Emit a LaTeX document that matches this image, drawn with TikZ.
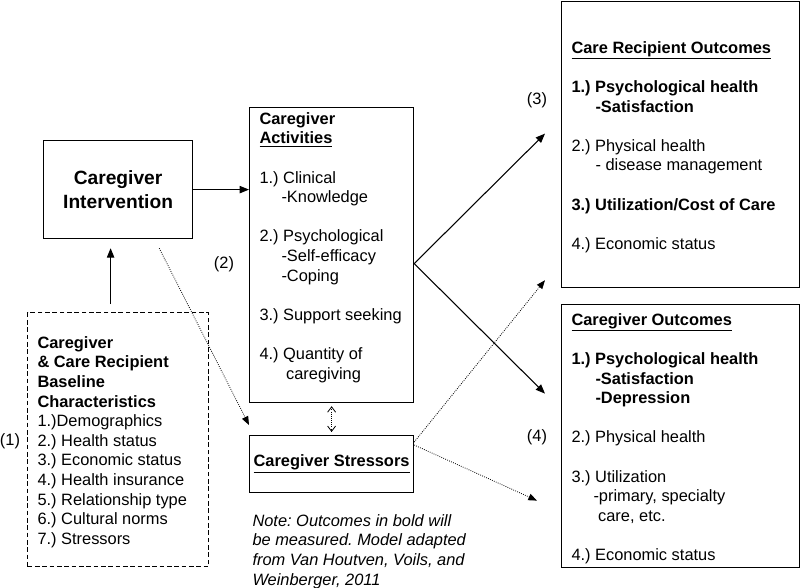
\documentclass[tikz,border=0pt]{standalone}
\usepackage{fontspec}
\setmainfont{Liberation Sans}
\usetikzlibrary{arrows.meta,calc}
\frenchspacing

\tikzset{every picture/.style={line width=0.75pt}}
\tikzset{
  box/.style={draw, line width=0.9pt, inner sep=0, anchor=north west},
  txt/.style={font=\fontsize{12.3}{14.7}\selectfont, align=left, inner sep=0, anchor=north west},
  lbl/.style={font=\fontsize{12.3}{14.7}\selectfont, inner sep=0},
  arr/.style={line width=0.8pt, -{Triangle[length=7pt,width=5.5pt]}},
  dotarr/.style={line width=0.6pt, densely dotted, -{Triangle[length=6.5pt,width=5pt]}},
  dblarr/.style={line width=0.6pt, densely dotted, {Straight Barb[length=4pt,width=6pt]}-{Straight Barb[length=4pt,width=6pt]}},
}

\begin{document}
\begin{tikzpicture}[x=0.75pt,y=0.75pt,yscale=-1,xscale=1]
	\useasboundingbox (0,0) rectangle (800,587);

	% Boxes
	\node[box, minimum width=111.75pt, minimum height=73.5pt, align=center, font=\fontsize{14.4}{17.3}\selectfont\bfseries] (intv) at (43,140) {Caregiver\\Intervention};
	\node[box, minimum width=123pt, minimum height=221.25pt] (act) at (249,107) {};
	\node[box, dash pattern=on 3.5pt off 2pt, minimum width=135.75pt, minimum height=190.5pt] (base) at (27,312) {};
	\node[box, minimum width=123pt, minimum height=42.75pt, font=\fontsize{12.3}{14.7}\selectfont\bfseries] (str) at (249,435) {\underline{Caregiver Stressors}};
	\node[box, minimum width=178.5pt, minimum height=214.5pt] (cro) at (561,1) {};
	\node[box, minimum width=178.5pt, minimum height=197.25pt] (cgo) at (561,304) {};

	% Box texts
	\node[txt] (acttxt) at (259,112) {\textbf{Caregiver}\\
		\textbf{\underline{Activities}}\\[14.7pt]
		1.) Clinical\\
		\hspace*{16.5pt}-Knowledge\\[14.7pt]
		2.) Psychological\\
		\hspace*{16.5pt}-Self-efficacy\\
		\hspace*{16.5pt}-Coping\\[14.7pt]
		3.) Support seeking\\[14.7pt]
		4.) Quantity of\\
		\hspace*{20pt}caregiving};
	\node[txt] (basetxt) at (37,336) {\textbf{Caregiver}\\
		\textbf{\& Care Recipient}\\
		\textbf{Baseline}\\
		\textbf{Characteristics}\\
		1.)Demographics\\
		2.) Health status\\
		3.) Economic status\\
		4.) Health insurance\\
		5.) Relationship type\\
		6.) Cultural norms\\
		7.) Stressors};
	\node[txt] (crotxt) at (571,41) {\textbf{\underline{Care Recipient Outcomes}}\\[14.7pt]
		\textbf{1.) Psychological health}\\
		\hspace*{18pt}\textbf{-Satisfaction}\\[14.7pt]
		2.) Physical health\\
		\hspace*{18pt}- disease management\\[14.7pt]
		\textbf{3.) Utilization/Cost of Care}\\[14.7pt]
		4.) Economic status};
	\node[txt] (cgotxt) at (571,313) {\textbf{\underline{Caregiver Outcomes}}\\[14.7pt]
		\textbf{1.) Psychological health}\\
		\hspace*{18pt}\textbf{-Satisfaction}\\
		\hspace*{18pt}\textbf{-Depression}\\[14.7pt]
		2.) Physical health\\[14.7pt]
		3.) Utilization\\
		\hspace*{16.5pt}-primary, specialty\\
		\hspace*{20pt}care, etc.\\[14.7pt]
		4.) Economic status};
	\node[txt, font=\fontsize{12.3}{14.7}\selectfont\itshape] (note) at (252,514) {Note: Outcomes in bold will\\
		be measured. Model adapted\\
		from Van Houtven, Voils, and\\
		Weinberger, 2011};

	% Path labels
	\node[lbl] (l1) at (10,441) {(1)};
	\node[lbl] (l2) at (224,264) {(2)};
	\node[lbl] (l3) at (537,100) {(3)};
	\node[lbl] (l4) at (537,437) {(4)};

	% Connectors
	\coordinate (fork) at ($(act.east)+(0,8.5)$);
	\draw[arr] (intv.east) -- (intv.east -| act.west);
	\draw[arr, shorten <=6pt, shorten >=6.75pt] ($(base.north)+(-7.5,0)$) -- ($(intv.south)+(-7.5,0)$);
	\draw[dotarr] ($(intv.south east)+(-34,9)$) -- ($(str.north west)+(0,-10)$);
	\draw[dblarr, shorten <=2.25pt, shorten >=2.25pt] (act.south) -- (str.north);
	\draw[arr] (fork) -- ($(cro.west)+(-16,-11)$);
	\draw[arr] (fork) -- ($(cgo.west)+(-16,-42.5)$);
	\draw[dotarr] ($(str.north east)+(0,7)$) -- ($(cro.south west)+(-16,-8)$);
	\draw[dotarr] ($(str.north east)+(0,10)$) -- ($(cgo.west)+(-24,64.5)$);
\end{tikzpicture}
\end{document}
